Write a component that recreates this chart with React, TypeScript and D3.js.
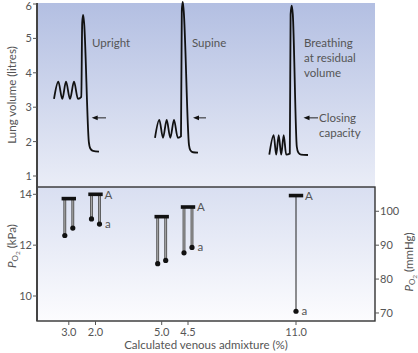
import * as d3 from 'd3'

// top panel: stylised spirometer traces, x in seconds, y in litres
const uprightTrace: [number, number][] = [
  [8.5, 3.24], [10.65, 3.74], [12.65, 3.24], [14.5, 3.74], [16.5, 3.24], [18.5, 3.74], [20.5, 3.24],
  [22.15, 3.3], [22.6, 5.45], [23.05, 5.68], [23.55, 5.45], [25.9, 2.0], [26.65, 1.8], [28, 1.73], [31, 1.71],
]
const supineTrace: [number, number][] = [
  [59, 2.11], [61.15, 2.63], [63, 2.11], [64.85, 2.63], [66.65, 2.11], [68.5, 2.63], [70.4, 2.11],
  [72, 2.15], [72.4, 5.8], [72.85, 6.06], [73.35, 5.8], [76, 1.9], [76.75, 1.74], [78, 1.69], [80.5, 1.68],
]
const residualTrace: [number, number][] = [
  [116.15, 1.62], [118.35, 2.19], [119.6, 1.62], [120.85, 2.19], [122.1, 1.62], [123.35, 2.19], [124.6, 1.62],
  [126.4, 1.65], [126.8, 5.7], [127.35, 5.95], [127.9, 5.7], [129.9, 1.85], [130.65, 1.68], [132, 1.62], [135.5, 1.61],
]

const conditionNames = [['Upright'], ['Supine'], ['Breathing', 'at residual', 'volume']]
const conditionTraces = [uprightTrace, supineTrace, residualTrace]
const closingCapacity = [2.69, 2.69, 2.69]
// arrow head / tail, seconds
const closingArrows: [number, number][] = [[27.35, 34.5], [78, 84.5], [133.25, 140.5]]

// bottom panel: alveolar (A) and arterial (a) PO2, kPa
const admixtureLabels = ['3.0', '2.0', '5.0', '4.5', '11.0']
const admixturePositions = [15.9, 29.25, 62.35, 75.5, 129.5]
const alveolarPO2 = [13.83, 14.0, 13.12, 13.5, 13.95]
const arterialPO2 = [[12.38, 12.67], [13.03, 12.83], [11.27, 11.4], [11.7, 11.91], [9.4]]
const showTags = [false, true, false, true, true]

const volumeTicks = [1, 2, 3, 4, 5, 6]
const kpaTicks = [10, 12, 14]
const mmHgTicks = [70, 80, 90, 100]

const FONT = "Lato, 'Open Sans', sans-serif"
const INK = '#555'

export default function App() {
  const width = 418
  const height = 353
  const left = 37
  const right = 375
  const topY = 3
  const splitY = 187
  const bottomY = 321

  const x = d3.scaleLinear().domain([0, 169]).range([left, right])
  const yVol = d3.scaleLinear().domain([1, 6]).range([176, 4])
  const yKpa = d3.scaleLinear().domain([10, 14]).range([296, 194.3])
  const yMmHg = (m: number) => yKpa(m / 7.50062)

  const line = d3
    .line<[number, number]>()
    .x((d) => x(d[0]))
    .y((d) => yVol(d[1]))
    .curve(d3.curveMonotoneX)

  const po2Label = (unit: string) => (
    <>
      <tspan fontStyle="italic">P</tspan>
      <tspan fontSize="8" dy="2">O</tspan>
      <tspan fontSize="6.5" dy="1.5">2</tspan>
      <tspan dy="-3.5"> {unit}</tspan>
    </>
  )

  return (
    <svg
      width={width}
      height={height}
      style={{ position: 'absolute', left: 0, top: 0, background: '#fff' }}
      fontFamily={FONT}
    >
      <defs>
        <linearGradient id="topBg" x1="0" y1="0" x2="0" y2="1">
          <stop offset="0" stopColor="#b3bfe2" />
          <stop offset="1" stopColor="#eaedf7" />
        </linearGradient>
        <linearGradient id="lowBg" x1="0" y1="0" x2="0" y2="1">
          <stop offset="0" stopColor="#d9dff1" />
          <stop offset="1" stopColor="#fcfcfe" />
        </linearGradient>
      </defs>

      <rect x={left} y={topY} width={right - left} height={splitY - topY} fill="url(#topBg)" />
      <rect x={left} y={splitY} width={right - left} height={bottomY - splitY} fill="url(#lowBg)" />

      {/* traces */}
      {conditionTraces.map((trace, i) => (
        <path
          key={i}
          d={line(trace) ?? ''}
          fill="none"
          stroke="#111"
          strokeWidth="1.8"
          strokeLinejoin="round"
        />
      ))}

      {closingArrows.map(([head, tail], i) => {
        const yy = yVol(closingCapacity[i])
        const hx = x(head)
        return (
          <g key={i}>
            <line x1={hx + 4} x2={x(tail)} y1={yy} y2={yy} stroke="#222" strokeWidth="1" />
            <path d={`M${hx},${yy} L${hx + 6},${yy - 2.3} L${hx + 6},${yy + 2.3} Z`} fill="#111" />
          </g>
        )
      })}

      {conditionNames.map((lines, i) => (
        <text key={i} x={x(closingArrows[i][1]) - 14} y={47} fontSize="11.5" fill={INK}>
          {lines.map((l, j) => (
            <tspan key={j} x={x(closingArrows[i][1]) - 14} dy={j === 0 ? 0 : 15}>
              {l}
            </tspan>
          ))}
        </text>
      ))}

      <text
        x={x(closingArrows[2][1]) + 1}
        y={yVol(closingCapacity[2]) + 3.8}
        fontSize="11.5"
        fill={INK}
      >
        Closing
        <tspan x={x(closingArrows[2][1]) + 1} dy="15">capacity</tspan>
      </text>

      {/* PO2 markers */}
      {admixtureLabels.map((label, i) => {
        const cx = x(admixturePositions[i])
        const barY = yKpa(alveolarPO2[i])
        const dots = arterialPO2[i]
        const offsets = dots.length === 2 ? [-4, 4] : [0]
        return (
          <g key={label}>
            {dots.map((v, j) =>
              dots.length === 2 ? (
                <g key={j}>
                  <line x1={cx + offsets[j]} x2={cx + offsets[j]} y1={barY} y2={yKpa(v)} stroke="#444" strokeWidth="2.8" />
                  <line x1={cx + offsets[j]} x2={cx + offsets[j]} y1={barY} y2={yKpa(v)} stroke="#a3a3a3" strokeWidth="1.3" />
                </g>
              ) : (
                <line key={j} x1={cx} x2={cx} y1={barY} y2={yKpa(v)} stroke="#222" strokeWidth="1" />
              ),
            )}
            <rect x={cx - 7.2} y={barY - 1.8} width={14.4} height={3.6} fill="#111" />
            {dots.map((v, j) => (
              <circle key={j} cx={cx + offsets[j]} cy={yKpa(v)} r="2.6" fill="#111" />
            ))}
            {showTags[i] && (
              <>
                <text x={cx + 9} y={barY + 4.3} fontSize="11.5" fill={INK}>A</text>
                <text
                  x={cx + offsets[offsets.length - 1] + 5.5}
                  y={yKpa(dots[dots.length - 1]) + 3.5}
                  fontSize="11.5"
                  fill={INK}
                >
                  a
                </text>
              </>
            )}
          </g>
        )
      })}

      {/* frames */}
      <rect x={left} y={splitY} width={right - left} height={bottomY - splitY} fill="none" stroke="#333" strokeWidth="1.4" />
      <line x1={left} x2={left} y1={topY} y2={bottomY} stroke="#444" strokeWidth="2" />

      {/* left ticks */}
      {volumeTicks.map((t) => (
        <g key={`v${t}`} transform={`translate(0,${yVol(t)})`}>
          <line x1={left - 4} x2={left} stroke="#555" strokeWidth="1" />
          <text x={left - 5} y={Math.max(4, 10 - yVol(t))} textAnchor="end" fontSize="11" fill={INK}>{t}</text>
        </g>
      ))}
      {kpaTicks.map((t) => (
        <g key={`k${t}`} transform={`translate(0,${yKpa(t)})`}>
          <line x1={left - 4} x2={left} stroke="#555" strokeWidth="1" />
          <text x={left - 5} y={4} textAnchor="end" fontSize="11" fill={INK}>{t}</text>
        </g>
      ))}
      {mmHgTicks.map((t) => (
        <g key={`m${t}`} transform={`translate(0,${yMmHg(t)})`}>
          <line x1={right} x2={right + 4} stroke="#555" strokeWidth="1" />
          <text x={right + 5} y={4} fontSize="11" fill={INK}>{t}</text>
        </g>
      ))}
      {admixtureLabels.map((label, i) => (
        <g key={`x${label}`} transform={`translate(${x(admixturePositions[i])},0)`}>
          <line y1={bottomY} y2={bottomY + 4} stroke="#555" strokeWidth="1" />
          <text y={336} textAnchor="middle" fontSize="11" fill={INK}>{label}</text>
        </g>
      ))}

      {/* axis titles */}
      <text transform="translate(16,95) rotate(-90)" textAnchor="middle" fontSize="11.5" fill={INK}>
        Lung volume (litres)
      </text>
      <text transform="translate(16,246) rotate(-90)" textAnchor="middle" fontSize="11.5" fill={INK}>
        {po2Label('(kPa)')}
      </text>
      <text transform="translate(413,262) rotate(-90)" textAnchor="middle" fontSize="11.5" fill={INK}>
        {po2Label('(mmHg)')}
      </text>
      <text x={206} y={349} textAnchor="middle" fontSize="11.5" fill={INK}>
        Calculated venous admixture (%)
      </text>
    </svg>
  )
}
